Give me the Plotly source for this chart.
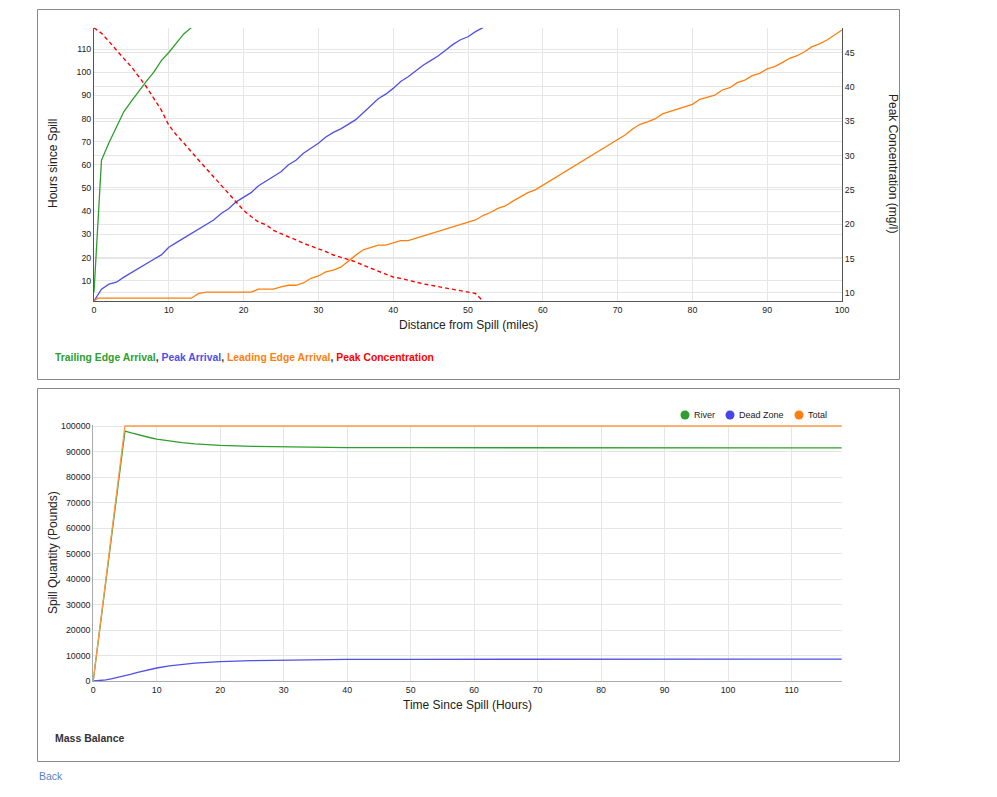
import plotly.graph_objects as go

# ---------------- data: top chart (distance vs. time) ----------------
trail_miles = [0, 1, 2, 3, 4, 5, 6, 7, 8, 9, 10, 11, 12, 13]
trail_hours = [5, 62, 69.5, 76.5, 83, 87.5, 92, 96, 100, 105, 108.5, 112.5, 116.5, 119.2]

peak_miles = list(range(0, 53))
peak_hours = [1.2, 6.3, 8.5, 9.3, 11.5, 13.5, 15.3, 17.2, 19.2, 21.1, 24.4, 26.4, 28.3, 30.3,
              32.2, 34.2, 36.2, 39, 41, 44, 46, 48, 51, 53, 55, 57, 60, 62, 65, 67, 69.3,
              72, 74, 75.5, 77.5, 79.5, 82.5, 85.5, 88.5, 90.5, 93, 96, 98, 100.5, 103, 105,
              107, 109.5, 112, 114, 115.3, 117.5, 119.2]

lead_miles = [0, 0.5, 13, 14, 15, 21, 22, 24, 25, 26, 27, 28, 29, 30, 31, 32, 33, 34, 35, 36,
              37, 38, 39, 40, 41, 42, 50, 51, 52, 53, 54, 55, 56, 57, 58, 59, 71, 72, 73, 74,
              75, 76, 77, 78, 79, 80, 81, 82, 83, 84, 85, 86, 87, 88, 89, 90, 91, 92, 93, 94,
              95, 96, 97, 98, 99, 100]
lead_hours = [1.2, 2.4, 2.4, 4.5, 5.0, 5.0, 6.3, 6.3, 7.3, 8.0, 8.0, 9.0, 11.0, 12.0, 13.8,
              14.5, 15.8, 18.5, 21.0, 23.3, 24.3, 25.3, 25.3, 26.3, 27.3, 27.3, 35.3, 36.2,
              38.1, 39.4, 41.2, 42.3, 44.3, 46.3, 48.0, 49.2, 72.9, 75.5, 77.5, 78.5, 79.8,
              82.0, 83.0, 84.0, 85.0, 86.1, 88.3, 89.2, 90.1, 92.3, 93.3, 95.5, 96.6, 98.5,
              99.5, 101.4, 102.4, 104.1, 106.0, 107.1, 108.8, 111.0, 112.2, 113.9, 115.9, 118.2]

conc_miles = list(range(0, 53))
conc_mgl = [48.6, 47.8, 46.6, 45.3, 44.1, 42.9, 41.5, 40.0, 38.3, 36.6, 34.4, 33.0, 31.8, 30.5,
            29.3, 28.1, 26.9, 25.7, 24.5, 23.3, 22.0, 21.1, 20.3, 19.9, 19.1, 18.6, 18.2, 17.7,
            17.2, 16.8, 16.5, 16.0, 15.5, 15.2, 14.8, 14.5, 14.0, 13.6, 13.2, 12.8, 12.3, 12.1,
            11.8, 11.6, 11.3, 11.1, 10.9, 10.6, 10.4, 10.2, 10.1, 9.9, 8.8]

# ---------------- data: bottom chart (mass balance) ----------------
mb_hours = [0, 1, 2, 3, 4, 5, 6, 7, 8, 9, 10, 12, 14, 16, 18, 20, 25, 30, 35, 40, 50, 60,
            70, 80, 90, 100, 110, 118]
river = [0, 19900, 39600, 59100, 78600, 98000, 97300, 96600, 96000, 95400, 94900, 94100,
         93500, 93000, 92700, 92400, 92000, 91800, 91650, 91550, 91500, 91450, 91450, 91420,
         91420, 91400, 91400, 91400]
dead_zone = [0, 100, 400, 900, 1400, 2000, 2700, 3400, 4000, 4600, 5100, 5900, 6500, 7000,
             7300, 7600, 8000, 8200, 8350, 8450, 8500, 8550, 8550, 8580, 8580, 8600, 8600, 8600]
total = [0, 20000, 40000, 60000, 80000, 100000, 100000, 100000, 100000, 100000, 100000, 100000,
         100000, 100000, 100000, 100000, 100000, 100000, 100000, 100000, 100000, 100000, 100000,
         100000, 100000, 100000, 100000, 100000]

top_x_ticks = list(range(0, 101, 10))
top_left_ticks = list(range(10, 111, 10))
top_right_ticks = list(range(10, 46, 5))
bot_x_ticks = list(range(0, 111, 10))
bot_y_ticks = list(range(0, 100001, 10000))

# ---------------- styling ----------------
W, H = 997, 797
GREEN, BLUE, ORANGE, RED = "#2e9e2e", "#5050e6", "#ff7f0e", "#ff0000"
FONT = "Arial, 'Liberation Sans', sans-serif"
TXT = "#222222"
GRID = "#e6e6e6"


def X(px):
    return px / W


def Y(py):
    return 1 - py / H


fig = go.Figure()

# top chart traces
fig.add_trace(go.Scatter(x=trail_miles, y=trail_hours, mode="lines", name="Trailing Edge Arrival",
                         line=dict(color=GREEN, width=1.3), xaxis="x", yaxis="y"))
fig.add_trace(go.Scatter(x=peak_miles, y=peak_hours, mode="lines", name="Peak Arrival",
                         line=dict(color=BLUE, width=1.3), xaxis="x", yaxis="y"))
fig.add_trace(go.Scatter(x=lead_miles, y=lead_hours, mode="lines", name="Leading Edge Arrival",
                         line=dict(color=ORANGE, width=1.3), xaxis="x", yaxis="y"))
fig.add_trace(go.Scatter(x=conc_miles, y=conc_mgl, mode="lines", name="Peak Concentration",
                         line=dict(color=RED, width=1.4, dash="4px,3px"), xaxis="x", yaxis="y2"))

# bottom chart traces
fig.add_trace(go.Scatter(x=mb_hours, y=river, mode="lines", name="River",
                         line=dict(color=GREEN, width=1.3), xaxis="x2", yaxis="y3"))
fig.add_trace(go.Scatter(x=mb_hours, y=dead_zone, mode="lines", name="Dead Zone",
                         line=dict(color=BLUE, width=1.3), xaxis="x2", yaxis="y3"))
fig.add_trace(go.Scatter(x=mb_hours, y=total, mode="lines", name="Total",
                         line=dict(color="#ff9a45", width=1.3), xaxis="x2", yaxis="y3"))

tickfont = dict(family=FONT, size=8.8, color=TXT)
common = dict(showgrid=True, gridcolor=GRID, gridwidth=1, zeroline=False, ticks="",
              tickfont=tickfont, automargin=False, fixedrange=True)

fig.update_layout(
    width=W, height=H, autosize=False,
    margin=dict(l=0, r=0, t=0, b=0, pad=0),
    paper_bgcolor="white", plot_bgcolor="white",
    showlegend=False,
    font=dict(family=FONT, color=TXT),
    xaxis=dict(domain=[X(94), X(842)], anchor="y", range=[0, 100], tickvals=top_x_ticks,
               showline=True, linecolor="#555555", linewidth=1, ticklabelstandoff=0, **common),
    yaxis=dict(domain=[Y(301), Y(27.7)], anchor="x", range=[1.2, 119.2], tickvals=top_left_ticks,
               showline=True, linecolor="#555555", linewidth=1, ticklabelstandoff=0, **common),
    yaxis2=dict(overlaying="y", side="right", anchor="x", range=[8.8, 48.6],
                tickvals=top_right_ticks, showline=True, linecolor="#555555", linewidth=1,
                ticklabelstandoff=0, **common),
    xaxis2=dict(domain=[X(93.2), X(841.7)], anchor="y3", range=[0, 117.9], tickvals=bot_x_ticks,
                showline=True, linecolor="#aaaaaa", linewidth=1, ticklabelstandoff=0, **common),
    yaxis3=dict(domain=[Y(681), Y(425)], anchor="x2", range=[0, 100400], tickvals=bot_y_ticks,
                tickformat="d", showline=True, linecolor="#aaaaaa", linewidth=1,
                ticklabelstandoff=0, **common),
)

# panel borders
for (x0, y0, x1, y1) in [(37.5, 9.5, 899.5, 379.5), (37.5, 388.5, 899.5, 761.5)]:
    fig.add_shape(type="rect", xref="paper", yref="paper", x0=X(x0), x1=X(x1), y0=Y(y1), y1=Y(y0),
                  line=dict(color="#888888", width=1), fillcolor="rgba(0,0,0,0)", layer="below")

ann = []
title_font = dict(family=FONT, size=12, color=TXT)
ann.append(dict(text="Hours since Spill", x=X(53), y=Y(164), textangle=-90, font=title_font))
ann.append(dict(text="Peak Concentration (mg/l)", x=X(893), y=Y(163), textangle=90, font=title_font))
ann.append(dict(text="Distance from Spill (miles)", x=X(468), y=Y(325), font=title_font))
ann.append(dict(text="Time Since Spill (Hours)", x=X(467), y=Y(705), font=title_font))
ann.append(dict(text="Spill Quantity (Pounds)", x=X(53), y=Y(553), textangle=-90, font=title_font))

legend_html = ("<b><span style='color:%s'>Trailing Edge Arrival</span>, "
               "<span style='color:%s'>Peak Arrival</span>, "
               "<span style='color:%s'>Leading Edge Arrival</span>, "
               "<span style='color:%s'>Peak Concentration</span></b>") % (GREEN, BLUE, ORANGE, RED)
ann.append(dict(text=legend_html, x=X(53), y=Y(357), xanchor="left",
                font=dict(family=FONT, size=10.4, color="#333333")))
ann.append(dict(text="<b>Mass Balance</b>", x=X(53), y=Y(738), xanchor="left",
                font=dict(family=FONT, size=10.5, color="#333333")))
ann.append(dict(text="Back", x=X(37), y=Y(776), xanchor="left",
                font=dict(family=FONT, size=10.5, color="#5a7fcc")))

# bottom legend (circle markers + labels)
legend_items = [("River", GREEN, 685, 691.5), ("Dead Zone", "#4646e8", 730, 736.5),
                ("Total", ORANGE, 799, 805.5)]
for name, col, cx, tx in legend_items:
    r = 4.5
    fig.add_shape(type="circle", xref="paper", yref="paper", x0=X(cx - r), x1=X(cx + r),
                  y0=Y(415 + r), y1=Y(415 - r), line=dict(width=0), fillcolor=col)
    ann.append(dict(text=name, x=X(tx), y=Y(415), xanchor="left",
                    font=dict(family=FONT, size=9, color=TXT)))

for a in ann:
    a.setdefault("xanchor", "center")
    a.update(xref="paper", yref="paper", yanchor="middle", showarrow=False)
    fig.add_annotation(**a)

fig.write_html("out.html")
